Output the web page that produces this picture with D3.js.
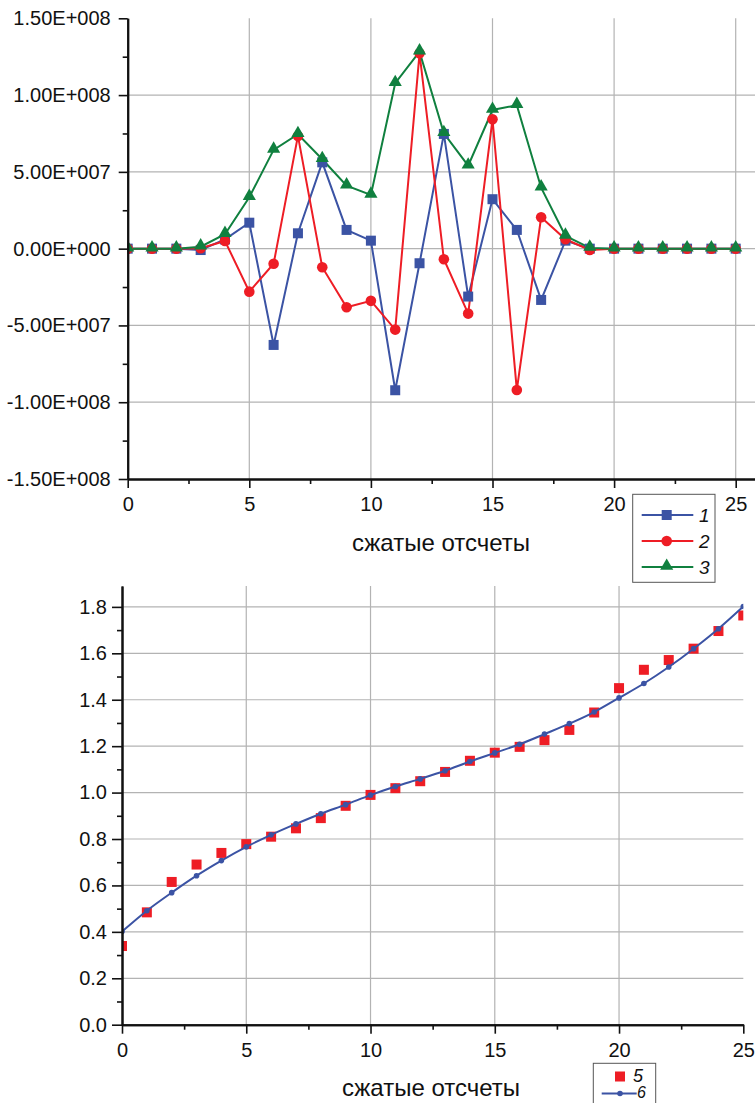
<!DOCTYPE html>
<html>
<head>
<meta charset="utf-8">
<script src="https://cdn.jsdelivr.net/npm/d3@7"></script>
<style>
  body { margin: 0; background: #fff; }
  text { font-family: "Liberation Sans", Arial, sans-serif; fill: #111; }
</style>
</head>
<body>
<div id="target"></div>
<script>
let width = 755,
  height = 1103;

// compressed samples (x)
let samples = [0, 1, 2, 3, 4, 5, 6, 7, 8, 9, 10, 11, 12, 13, 14, 15, 16, 17, 18, 19, 20, 21, 22, 23, 24, 25];

// top chart series 1, 2, 3
let series1 = [0, 0, 0, -0.9e6, 6.0e6, 16.9e6, -62.7e6, 10.0e6, 56.2e6, 12.2e6, 5.2e6, -92.2e6, -9.5e6,
  74.7e6, -31.2e6, 32.2e6, 12.2e6, -33.4e6, 5.2e6, 0, 0, 0, 0, 0, 0, 0];
let series2 = [0, 0, 0, 0.3e6, 5.0e6, -28.0e6, -9.8e6, 73.4e6, -12.1e6, -38.2e6, -34.0e6, -52.7e6, 127.2e6,
  -6.9e6, -42.3e6, 84.2e6, -92.0e6, 20.4e6, 6.1e6, -0.8e6, 0, 0, 0, 0, 0, 0];
let series3 = [0, 0, 0, 1.3e6, 9.4e6, 33.5e6, 64.3e6, 74.5e6, 58.2e6, 41.0e6, 35.0e6, 107.7e6, 128.3e6,
  75.1e6, 54.0e6, 90.3e6, 93.4e6, 39.7e6, 8.3e6, 0.5e6, 0, 0, 0, 0, 0, 0];

// bottom chart series 5 (points) and 6 (line)
let series5 = [0.339, 0.484, 0.615, 0.690, 0.740, 0.778, 0.810, 0.846, 0.890, 0.943, 0.990, 1.019, 1.049,
  1.089, 1.137, 1.172, 1.197, 1.226, 1.270, 1.345, 1.450, 1.529, 1.571, 1.620, 1.696, 1.763];
let series6 = [0.401, 0.491, 0.569, 0.642, 0.707, 0.766, 0.818, 0.865, 0.909, 0.948, 0.989, 1.026, 1.059,
  1.094, 1.134, 1.171, 1.208, 1.252, 1.297, 1.347, 1.408, 1.470, 1.541, 1.620, 1.706, 1.802];

let xTicks = [0, 5, 10, 15, 20, 25];
let xMinor = [2.5, 7.5, 12.5, 17.5, 22.5];
let yTopTicks = [-1.5e8, -1e8, -5e7, 0, 5e7, 1e8, 1.5e8];
let yTopLabels = ["-1.50E+008", "-1.00E+008", "-5.00E+007", "0.00E+000", "5.00E+007", "1.00E+008", "1.50E+008"];
let yTopMinor = [-1.25e8, -7.5e7, -2.5e7, 2.5e7, 7.5e7, 1.25e8];
let yBotTicks = [0, 0.2, 0.4, 0.6, 0.8, 1.0, 1.2, 1.4, 1.6, 1.8];
let yBotMinor = [0.1, 0.3, 0.5, 0.7, 0.9, 1.1, 1.3, 1.5, 1.7];
let xTitle = "сжатые отсчеты";

let blue = "#3b53a4",
  red = "#ee1d25",
  green = "#10803f",
  grid = "#b3b3b3";

let svg = d3.select("#target").append("svg")
  .attr("width", width)
  .attr("height", height);

// ---------- top chart ----------
let xTop = d3.scaleLinear().domain([0, 25]).range([127.7, 735.7]);
let xTopExt = d3.scaleLinear().domain([0, xTop.invert(757)]).range([127.7, 757]);
let yTop = d3.scaleLinear().domain([-1.5e8, 1.5e8]).range([479, 18.3]);

let topG = svg.append("g");

topG.append("defs").append("clipPath").attr("id", "clipTop")
  .append("rect")
  .attr("x", xTop(0)).attr("y", yTop(1.5e8) - 8)
  .attr("width", 757 - xTop(0)).attr("height", yTop(-1.5e8) - yTop(1.5e8) + 8);

topG.selectAll(".vgrid")
  .data(xTicks.slice(1))
  .enter().append("line")
  .attr("x1", d => xTop(d)).attr("x2", d => xTop(d))
  .attr("y1", yTop(1.5e8)).attr("y2", yTop(-1.5e8))
  .attr("stroke", grid).attr("stroke-width", 1.2);

topG.selectAll(".hgrid")
  .data(yTopTicks.slice(1, -1))
  .enter().append("line")
  .attr("x1", xTop(0)).attr("x2", 757)
  .attr("y1", d => yTop(d)).attr("y2", d => yTop(d))
  .attr("stroke", grid).attr("stroke-width", 1.2);

let lineTop = d3.line()
  .x((d, i) => xTop(samples[i]))
  .y(d => yTop(d));

let plotTop = topG.append("g").attr("clip-path", "url(#clipTop)");

[[series1, blue], [series2, red], [series3, green]].forEach(([s, c]) => {
  plotTop.append("path")
    .datum(s)
    .attr("fill", "none")
    .attr("stroke", c)
    .attr("stroke-width", 2)
    .attr("d", lineTop);
});

plotTop.selectAll(".sq1")
  .data(series1)
  .enter().append("rect")
  .attr("x", (d, i) => xTop(samples[i]) - 5)
  .attr("y", d => yTop(d) - 5)
  .attr("width", 10).attr("height", 10)
  .attr("fill", blue);

plotTop.selectAll(".ci2")
  .data(series2)
  .enter().append("circle")
  .attr("cx", (d, i) => xTop(samples[i]))
  .attr("cy", d => yTop(d))
  .attr("r", 5.3)
  .attr("fill", red);

let tri = d3.symbol().type(d3.symbolTriangle).size(75);
plotTop.selectAll(".tr3")
  .data(series3)
  .enter().append("path")
  .attr("d", tri)
  .attr("transform", (d, i) => "translate(" + xTop(samples[i]) + "," + (yTop(d) - 1) + ")")
  .attr("fill", green);

// axes
topG.append("g")
  .attr("transform", "translate(0," + yTop(-1.5e8) + ")")
  .call(d3.axisBottom(xTopExt).tickValues(xMinor).tickSize(5).tickSizeOuter(0).tickFormat(""));
topG.append("g")
  .attr("class", "x axis")
  .attr("transform", "translate(0," + yTop(-1.5e8) + ")")
  .call(d3.axisBottom(xTopExt).tickValues(xTicks).tickSize(9).tickSizeOuter(0).tickPadding(9));

topG.append("g")
  .attr("transform", "translate(" + xTop(0) + ",0)")
  .call(d3.axisLeft(yTop).tickValues(yTopMinor).tickSize(5).tickSizeOuter(0).tickFormat(""));
topG.append("g")
  .attr("class", "y axis")
  .attr("transform", "translate(" + xTop(0) + ",0)")
  .call(d3.axisLeft(yTop).tickValues(yTopTicks).tickSize(9).tickSizeOuter(0).tickPadding(8)
    .tickFormat((d, i) => yTopLabels[i]));

topG.append("text")
  .attr("x", 441).attr("y", 551)
  .attr("text-anchor", "middle")
  .style("font-size", "24px")
  .text(xTitle);

// legend 1-3
let leg1 = topG.append("g");
leg1.append("rect")
  .attr("x", 632.7).attr("y", 494.3)
  .attr("width", 82.3).attr("height", 88)
  .attr("fill", "#fff").attr("stroke", "#555").attr("stroke-width", 1);
let legItems = [["1", blue, "square"], ["2", red, "circle"], ["3", green, "triangle"]];
legItems.forEach(([lab, c, m], i) => {
  let yy = 515 + i * 26;
  leg1.append("line")
    .attr("x1", 641.7).attr("x2", 693.3).attr("y1", yy).attr("y2", yy)
    .attr("stroke", c).attr("stroke-width", 2);
  if (m === "square") {
    leg1.append("rect").attr("x", 661.7).attr("y", yy - 5).attr("width", 10).attr("height", 10).attr("fill", c);
  } else if (m === "circle") {
    leg1.append("circle").attr("cx", 666.7).attr("cy", yy).attr("r", 5.3).attr("fill", c);
  } else {
    leg1.append("path").attr("d", tri).attr("transform", "translate(666.7," + (yy - 1) + ")").attr("fill", c);
  }
  leg1.append("text")
    .attr("x", 699).attr("y", yy + 7)
    .style("font-size", "19px").style("font-style", "italic")
    .text(lab);
});

// ---------- bottom chart ----------
let xBot = d3.scaleLinear().domain([0, 25]).range([122, 743.3]);
let yBot = d3.scaleLinear().domain([0, 1.89]).range([1024.7, 586]);

let botG = svg.append("g");

botG.append("defs").append("clipPath").attr("id", "clipBot")
  .append("rect")
  .attr("x", xBot(0)).attr("y", yBot(1.89))
  .attr("width", xBot(25) - xBot(0)).attr("height", yBot(0) - yBot(1.89));

botG.selectAll(".vgrid")
  .data(xTicks.slice(1, -1))
  .enter().append("line")
  .attr("x1", d => xBot(d)).attr("x2", d => xBot(d))
  .attr("y1", yBot(1.89)).attr("y2", yBot(0))
  .attr("stroke", grid).attr("stroke-width", 1.2);

botG.selectAll(".hgrid")
  .data(yBotTicks.slice(1))
  .enter().append("line")
  .attr("x1", xBot(0)).attr("x2", xBot(25))
  .attr("y1", d => yBot(d)).attr("y2", d => yBot(d))
  .attr("stroke", grid).attr("stroke-width", 1.2);

let plotBot = botG.append("g").attr("clip-path", "url(#clipBot)");

plotBot.selectAll(".sq5")
  .data(series5)
  .enter().append("rect")
  .attr("x", (d, i) => xBot(samples[i]) - 5)
  .attr("y", d => yBot(d) - 5)
  .attr("width", 10).attr("height", 10)
  .attr("fill", red);

plotBot.append("path")
  .datum(series6)
  .attr("fill", "none")
  .attr("stroke", blue)
  .attr("stroke-width", 2)
  .attr("d", d3.line()
    .curve(d3.curveMonotoneX)
    .x((d, i) => xBot(samples[i]))
    .y(d => yBot(d)));

plotBot.selectAll(".dot6")
  .data(series6)
  .enter().append("circle")
  .attr("cx", (d, i) => xBot(samples[i]))
  .attr("cy", d => yBot(d))
  .attr("r", 2.8)
  .attr("fill", blue);

botG.append("g")
  .attr("transform", "translate(0," + yBot(0) + ")")
  .call(d3.axisBottom(xBot).tickValues(xMinor).tickSize(5).tickSizeOuter(0).tickFormat(""));
botG.append("g")
  .attr("class", "x axis")
  .attr("transform", "translate(0," + yBot(0) + ")")
  .call(d3.axisBottom(xBot).tickValues(xTicks).tickSize(9).tickSizeOuter(0).tickPadding(9));

botG.append("g")
  .attr("transform", "translate(" + xBot(0) + ",0)")
  .call(d3.axisLeft(yBot).tickValues(yBotMinor).tickSize(5).tickSizeOuter(0).tickFormat(""));
botG.append("g")
  .attr("class", "y axis")
  .attr("transform", "translate(" + xBot(0) + ",0)")
  .call(d3.axisLeft(yBot).tickValues(yBotTicks).tickSize(10).tickSizeOuter(0).tickPadding(5)
    .tickFormat(d3.format(".1f")));

botG.append("text")
  .attr("x", 431).attr("y", 1096)
  .attr("text-anchor", "middle")
  .style("font-size", "24px")
  .text(xTitle);

// legend 5-6
let leg2 = botG.append("g");
leg2.append("rect")
  .attr("x", 593.3).attr("y", 1063.3)
  .attr("width", 62.4).attr("height", 60)
  .attr("fill", "#fff").attr("stroke", "#555").attr("stroke-width", 1);
leg2.append("rect")
  .attr("x", 615).attr("y", 1071.5).attr("width", 10).attr("height", 10).attr("fill", red);
leg2.append("text")
  .attr("x", 633).attr("y", 1082)
  .style("font-size", "18px").style("font-style", "italic")
  .text("5");
leg2.append("line")
  .attr("x1", 601.7).attr("x2", 636.7).attr("y1", 1093.5).attr("y2", 1093.5)
  .attr("stroke", blue).attr("stroke-width", 2);
leg2.append("circle")
  .attr("cx", 620).attr("cy", 1093.5).attr("r", 2.8).attr("fill", blue);
leg2.append("text")
  .attr("x", 637).attr("y", 1098)
  .style("font-size", "16px").style("font-style", "italic")
  .text("6");

// axis styling
svg.selectAll(".domain").attr("stroke", "#111").attr("stroke-width", 2);
svg.selectAll(".tick line").attr("stroke", "#111").attr("stroke-width", 1.6);
svg.selectAll(".tick text").style("font-size", "20px").attr("fill", "#111");
</script>
</body>
</html>
